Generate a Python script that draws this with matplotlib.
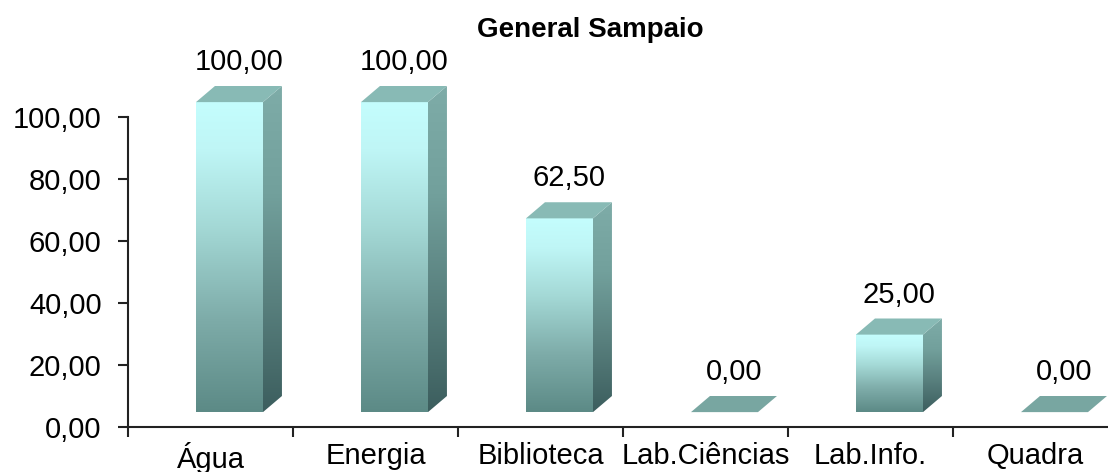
import numpy as np
import matplotlib
matplotlib.use("Agg")
import matplotlib.pyplot as plt
from matplotlib.colors import LinearSegmentedColormap
from matplotlib.patches import Polygon
from matplotlib.ticker import FuncFormatter

plt.rcParams['font.family'] = ['Liberation Sans', 'DejaVu Sans']

title = "General Sampaio"
categorias = ["Água", "Energia", "Biblioteca", "Lab.Ciências", "Lab.Info.", "Quadra"]
valores = [100.0, 100.0, 62.5, 0.0, 25.0, 0.0]
yticks = [0, 20, 40, 60, 80, 100]

# geometria do "3D" (unidades de dados)
esq, larg = 0.412, 0.406      # face frontal dentro da categoria
dx, dy = 0.115, 5.2           # profundidade
base = 4.8                    # base da face frontal

frente = LinearSegmentedColormap.from_list(
    "frente", [(0.0, "#5c8a86"), (0.3, "#7eaca9"), (0.6, "#a4d9d6"),
               (0.85, "#bff6f6"), (1.0, "#c4fdfd")])
lado = LinearSegmentedColormap.from_list(
    "lado", ["#3c5e5e", "#587f7d", "#72a09c", "#7eaca8"])
cor_topo = "#88bab5"

fig = plt.figure(figsize=(11.08, 4.72), dpi=100)
ax = fig.add_axes([128 / 1108, 45 / 472, 990 / 1108, 356.5 / 472])
ax.set_xlim(0, 6)
ax.set_ylim(0, 115)

grad = np.linspace(0, 1, 256).reshape(-1, 1)

for i, v in enumerate(valores):
    x0 = i + esq
    x1 = x0 + larg
    y0 = base
    y1 = base + v
    if v > 0:
        # face frontal
        ax.imshow(grad, cmap=frente, origin="lower", aspect="auto",
                  extent=[x0, x1, y0, y1], zorder=2, interpolation="bilinear")
        # face lateral
        lat = Polygon([(x1, y0), (x1 + dx, y0 + dy), (x1 + dx, y1 + dy), (x1, y1)],
                      closed=True, facecolor="none", edgecolor="none")
        ax.add_patch(lat)
        im = ax.imshow(grad, cmap=lado, origin="lower", aspect="auto",
                       extent=[x1, x1 + dx, y0, y1 + dy], zorder=2,
                       interpolation="bilinear")
        im.set_clip_path(lat)
        topo_cor = cor_topo
    else:
        topo_cor = "#78a6a1"
    topo = Polygon([(x0, y1), (x1, y1), (x1 + dx, y1 + dy), (x0 + dx, y1 + dy)],
                   closed=True, facecolor=topo_cor, edgecolor="none", zorder=3)
    ax.add_patch(topo)
    rotulo = f"{v:.2f}".replace(".", ",")
    ax.text(x0 + larg / 2 + dx / 2, y1 + dy + 3.2, rotulo, ha="center",
            va="bottom", fontsize=21, color="black")

ax.set_xlim(0, 6)
ax.set_ylim(0, 115)

for s in ["top", "right"]:
    ax.spines[s].set_visible(False)
ax.spines["left"].set_bounds(0, 100)
ax.spines["left"].set_linewidth(1.5)
ax.spines["bottom"].set_linewidth(1.5)
ax.spines["left"].set_color("#222222")
ax.spines["bottom"].set_color("#222222")

ax.set_yticks(yticks)
ax.yaxis.set_major_formatter(FuncFormatter(lambda v, p: f"{v:.2f}".replace(".", ",")))
ax.tick_params(axis="y", length=7, width=1.5, pad=12, labelsize=21, color="#222222")

ax.set_xticks(np.arange(0, 7))
ax.set_xticklabels([])
ax.set_xticks(np.arange(len(categorias)) + 0.5, minor=True)
ax.set_xticklabels(categorias, minor=True)
ax.tick_params(axis="x", which="major", length=7, width=1.5, color="#222222")
ax.tick_params(axis="x", which="minor", length=0, pad=11, labelsize=21)

fig.text(590 / 1108, 1 - 30 / 472, title, ha="center", va="center",
         fontsize=20, fontweight="bold")

fig.savefig("out.png", dpi=100)
